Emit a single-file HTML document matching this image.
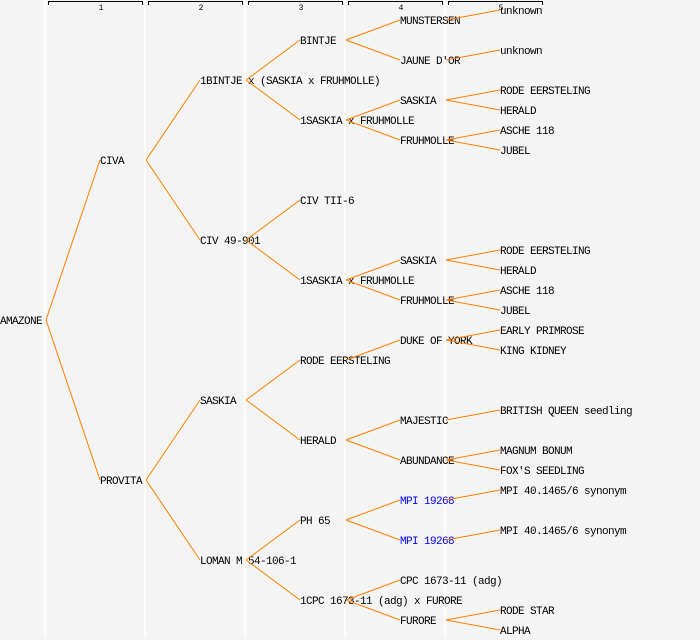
<!DOCTYPE html>
<html><head><meta charset="utf-8"><style>
html,body{margin:0;padding:0;background:#f4f4f4;}
svg{display:block;}
text{font-family:"Liberation Mono",monospace;font-size:11px;letter-spacing:-0.6px;fill:#000;}
.b{fill:#0000ff;}
.h{font-size:8px;letter-spacing:0;}
</style></head><body>
<svg width="700" height="640" xmlns="http://www.w3.org/2000/svg">
<rect width="700" height="640" fill="#f4f4f4"/>
<g stroke="#ffffff" stroke-width="1.5">
<line x1="45" y1="0" x2="45" y2="638"/><line x1="145" y1="0" x2="145" y2="638"/>
<line x1="245" y1="0" x2="245" y2="638"/><line x1="345" y1="0" x2="345" y2="638"/>
<line x1="445" y1="0" x2="445" y2="638"/>
</g>
<g stroke="#000" stroke-width="1" fill="none">
<path d="M48.5 5V1.5H142.5V5"/><path d="M148.5 5V1.5H242.5V5"/><path d="M248.5 5V1.5H342.5V5"/>
<path d="M348.5 5V1.5H442.5V5"/><path d="M448.5 5V1.5H542.5V5"/>
</g>
<g text-anchor="middle">
<text class="h" x="101" y="10">1</text><text class="h" x="201" y="10">2</text><text class="h" x="301" y="10">3</text><text class="h" x="401" y="10">4</text><text class="h" x="501" y="10">5</text>
</g>
<g dominant-baseline="central">
<text x="0" y="322">AMAZONE</text>
<text x="100" y="162">CIVA</text><text x="100" y="482">PROVITA</text>
<text x="200" y="82">1BINTJE x (SASKIA x FRUHMOLLE)</text>
<text x="200" y="242">CIV 49-901</text>
<text x="200" y="402">SASKIA</text>
<text x="200" y="562">LOMAN M 54-106-1</text>
<text x="300" y="42">BINTJE</text>
<text x="300" y="122">1SASKIA x FRUHMOLLE</text>
<text x="300" y="202">CIV TII-6</text>
<text x="300" y="282">1SASKIA x FRUHMOLLE</text>
<text x="300" y="362">RODE EERSTELING</text>
<text x="300" y="442">HERALD</text>
<text x="300" y="522">PH 65</text>
<text x="300" y="602">1CPC 1673-11 (adg) x FURORE</text>
<text x="400" y="22">MUNSTERSEN</text>
<text x="400" y="62">JAUNE D'OR</text>
<text x="400" y="102">SASKIA</text>
<text x="400" y="142">FRUHMOLLE</text>
<text x="400" y="262">SASKIA</text>
<text x="400" y="302">FRUHMOLLE</text>
<text x="400" y="342">DUKE OF YORK</text>
<text x="400" y="422">MAJESTIC</text>
<text x="400" y="462">ABUNDANCE</text>
<text class="b" x="400" y="502">MPI 19268</text>
<text class="b" x="400" y="542">MPI 19268</text>
<text x="400" y="582">CPC 1673-11 (adg)</text>
<text x="400" y="622">FURORE</text>
<text x="500" y="12">unknown</text>
<text x="500" y="52">unknown</text>
<text x="500" y="92">RODE EERSTELING</text>
<text x="500" y="112">HERALD</text>
<text x="500" y="132">ASCHE 118</text>
<text x="500" y="152">JUBEL</text>
<text x="500" y="252">RODE EERSTELING</text>
<text x="500" y="272">HERALD</text>
<text x="500" y="292">ASCHE 118</text>
<text x="500" y="312">JUBEL</text>
<text x="500" y="332">EARLY PRIMROSE</text>
<text x="500" y="352">KING KIDNEY</text>
<text x="500" y="412">BRITISH QUEEN seedling</text>
<text x="500" y="452">MAGNUM BONUM</text>
<text x="500" y="472">FOX'S SEEDLING</text>
<text x="500" y="492">MPI 40.1465/6 synonym</text>
<text x="500" y="532">MPI 40.1465/6 synonym</text>
<text x="500" y="612">RODE STAR</text>
<text x="500" y="632">ALPHA</text>
</g>
<g stroke="#ff8000" stroke-width="1" fill="none">
<path d="M46 320L100 160M46 320L100 480"/>
<path d="M146 160L200 80M146 160L200 240M146 480L200 400M146 480L200 560"/>
<path d="M246 80L300 40M246 80L300 120M246 240L300 200M246 240L300 280M246 400L300 360M246 400L300 440M246 560L300 520M246 560L300 600"/>
<path d="M346 40L400 20M346 40L400 60M346 120L400 100M346 120L400 140M346 280L400 260M346 280L400 300M346 360L400 340M346 440L400 420M346 440L400 460M346 520L400 500M346 520L400 540M346 600L400 580M346 600L400 620"/>
<path d="M446 20L500 10M446 60L500 50M446 100L500 90M446 100L500 110M446 140L500 130M446 140L500 150M446 260L500 250M446 260L500 270M446 300L500 290M446 300L500 310M446 340L500 330M446 340L500 350M446 420L500 410M446 460L500 450M446 460L500 470M446 500L500 490M446 540L500 530M446 620L500 610M446 620L500 630"/>
</g>
</svg>
</body></html>
